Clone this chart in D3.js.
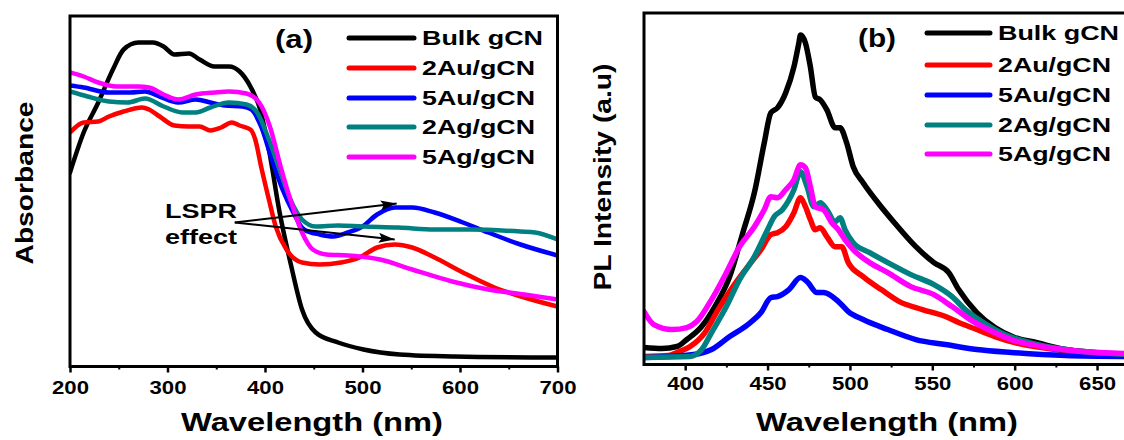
<!DOCTYPE html>
<html>
<head>
<meta charset="utf-8">
<script src="https://cdn.jsdelivr.net/npm/d3@7/dist/d3.min.js"></script>
<style>
  html, body { margin: 0; padding: 0; background: #fff; }
  svg { display: block; }
  text { font-family: "Liberation Sans", Arial, sans-serif; font-weight: bold; fill: #000; }
</style>
</head>
<body>
<svg id="chart" width="1124" height="440"></svg>
<script>
// ---------------- DATA ----------------
const seriesNames = ["Bulk gCN", "2Au/gCN", "5Au/gCN", "2Ag/gCN", "5Ag/gCN"];
const seriesColors = ["#000000", "#ff0000", "#0000ff", "#008080", "#ff00ff"];

// Panel (a): UV-vis absorbance, [wavelength nm, absorbance a.u.]
const absBulk = [[200,1.94],[214,2.34],[229,2.64],[244,2.97],[255,3.17],[270,3.24],[285,3.24],[296,3.20],[307,3.12],[322,3.13],[333,3.07],[348,3.00],[363,3.00],[374,2.95],[385,2.80],[395,2.57],[404,2.17],[415,1.54],[427,1.00],[438,0.57],[452,0.34],[475,0.24],[501,0.17],[538,0.12],[594,0.10],[700,0.09]];
const abs2Au = [[200,2.34],[214,2.44],[229,2.45],[240,2.50],[255,2.55],[274,2.59],[281,2.57],[292,2.50],[307,2.41],[322,2.40],[333,2.40],[344,2.36],[355,2.39],[366,2.44],[374,2.41],[385,2.37],[390,2.27],[396,2.00],[404,1.67],[411,1.40],[422,1.17],[438,1.04],[456,1.02],[478,1.04],[497,1.09],[515,1.19],[533,1.22],[551,1.19],[574,1.09],[603,0.94],[633,0.80],[666,0.69],[700,0.60]];
const abs5Au = [[200,2.81],[214,2.79],[240,2.74],[262,2.74],[277,2.75],[292,2.70],[311,2.64],[329,2.67],[344,2.64],[359,2.61],[377,2.60],[386,2.57],[396,2.40],[407,2.07],[418,1.77],[429,1.54],[440,1.37],[456,1.32],[470,1.30],[485,1.34],[500,1.40],[515,1.52],[533,1.59],[551,1.59],[574,1.54],[603,1.44],[629,1.34],[662,1.22],[700,1.11]];
const abs2Ag = [[200,2.75],[218,2.70],[240,2.65],[259,2.64],[277,2.68],[296,2.60],[315,2.54],[329,2.54],[344,2.59],[363,2.64],[381,2.62],[392,2.54],[404,2.27],[415,1.97],[426,1.67],[438,1.47],[452,1.40],[475,1.41],[500,1.40],[537,1.39],[574,1.37],[610,1.37],[662,1.35],[677,1.34],[700,1.27]];
const abs5Ag = [[200,2.94],[214,2.90],[229,2.84],[248,2.80],[270,2.80],[281,2.79],[296,2.72],[311,2.67],[329,2.72],[348,2.74],[363,2.75],[381,2.73],[394,2.64],[405,2.40],[416,2.00],[426,1.67],[438,1.34],[449,1.17],[463,1.12],[485,1.11],[518,1.07],[551,0.97],[592,0.85],[629,0.77],[666,0.72],[700,0.67]];

// Panel (b): PL intensity, [wavelength nm, intensity a.u.]
const plBulk = [[375,170],[386,160],[395,180],[401,250],[410,380],[418,580],[427,880],[435,1320],[442,1720],[448,2220],[452,2520],[456,2570],[461,2720],[466,2980],[469,3220],[470,3300],[473,3220],[476,2980],[479,2680],[482,2650],[486,2550],[491,2370],[494,2370],[498,2220],[502,1980],[508,1820],[517,1620],[527,1420],[540,1180],[551,1020],[560,920],[566,750],[577,520],[588,370],[600,270],[613,220],[631,150],[648,120],[670,90]];
const pl2Au = [[375,80],[390,90],[395,120],[403,180],[412,320],[420,550],[429,780],[438,980],[446,1150],[452,1300],[456,1320],[461,1380],[466,1520],[470,1670],[473,1580],[476,1450],[479,1350],[482,1370],[486,1280],[491,1180],[495,1180],[499,1020],[508,880],[519,750],[530,630],[544,550],[558,480],[566,420],[577,350],[588,280],[600,220],[620,160],[641,120],[670,100]];
const pl5Au = [[375,70],[405,100],[416,150],[427,280],[438,400],[446,520],[452,670],[456,680],[463,750],[470,870],[474,830],[480,720],[484,720],[493,630],[499,530],[508,450],[523,350],[540,250],[558,200],[577,150],[598,120],[631,90],[670,80]];
const pl2Ag = [[375,70],[403,80],[410,150],[416,320],[425,580],[433,850],[442,1080],[450,1350],[454,1480],[459,1550],[466,1750],[470,1930],[474,1780],[478,1580],[482,1620],[486,1550],[491,1430],[494,1470],[497,1350],[502,1220],[512,1120],[523,1020],[537,900],[551,800],[562,680],[570,550],[581,420],[594,300],[609,220],[631,150],[670,100]];
const pl5Ag = [[375,530],[381,400],[392,350],[401,370],[407,430],[416,650],[425,920],[433,1180],[442,1380],[448,1550],[452,1680],[456,1670],[461,1750],[466,1850],[470,2000],[473,1970],[476,1780],[479,1580],[484,1550],[489,1420],[493,1350],[497,1250],[502,1150],[512,1020],[523,920],[537,780],[551,700],[562,580],[573,450],[584,350],[598,250],[620,170],[641,130],[670,110]];

const ticksA = [200, 300, 400, 500, 600, 700];
const minorTicksA = [250, 350, 450, 550, 650];
const ticksB = [400, 450, 500, 550, 600, 650];
const minorTicksB = [425, 475, 525, 575, 625];

// LSPR annotation arrows, in panel (a) data units: [fromX, fromY, toX, toY]
const lsprArrows = [[369, 1.44, 535, 1.63], [369, 1.44, 533, 1.27]];

// ---------------- DRAW ----------------
const svg = d3.select("#chart");
const defs = svg.append("defs");
defs.append("marker").attr("id", "arrowhead")
  .attr("viewBox", "0 0 16 10").attr("refX", 16).attr("refY", 5)
  .attr("markerWidth", 16).attr("markerHeight", 10)
  .attr("markerUnits", "userSpaceOnUse").attr("orient", "auto")
  .append("path").attr("d", "M0,0 L16,5 L0,10 L3,5 Z").attr("fill", "#000");

function panel(cfg) {
  const g = svg.append("g");
  const x = d3.scaleLinear().domain(cfg.xDomain).range(cfg.xRange);
  const y = d3.scaleLinear().domain(cfg.yDomain).range(cfg.yRange);
  const clipId = "clip" + cfg.id;
  defs.append("clipPath").attr("id", clipId).append("rect")
    .attr("x", cfg.xRange[0]).attr("y", cfg.yRange[1])
    .attr("width", cfg.xRange[1] - cfg.xRange[0]).attr("height", cfg.yRange[0] - cfg.yRange[1]);

  const line = d3.line().x(d => x(d[0])).y(d => y(d[1])).curve(cfg.curve);
  const lg = g.append("g").attr("clip-path", `url(#${clipId})`);
  cfg.series.forEach((s, i) => {
    lg.append("path").datum(s).attr("d", line)
      .attr("fill", "none").attr("stroke", seriesColors[i])
      .attr("stroke-width", cfg.lineWidth).attr("stroke-linejoin", "round").attr("stroke-linecap", "round");
  });

  // frame
  g.append("rect").attr("x", cfg.xRange[0]).attr("y", cfg.yRange[1])
    .attr("width", cfg.xRange[1] - cfg.xRange[0]).attr("height", cfg.yRange[0] - cfg.yRange[1])
    .attr("fill", "none").attr("stroke", "#000").attr("stroke-width", 3);

  // x axis major
  const ax = g.append("g").attr("transform", `translate(0,${cfg.yRange[0]})`)
    .call(d3.axisBottom(x).tickValues(cfg.ticks).tickSize(6).tickSizeOuter(0).tickPadding(cfg.tickPad).tickFormat(d3.format("d")));
  ax.select(".domain").remove();
  ax.selectAll("line").attr("stroke-width", 2.5);
  ax.selectAll("text").attr("font-size", 19).attr("font-family", "Liberation Sans, Arial, sans-serif")
    .attr("font-weight", "bold").attr("textLength", 37).attr("lengthAdjust", "spacingAndGlyphs");
  const mx = g.append("g").attr("transform", `translate(0,${cfg.yRange[0]})`)
    .call(d3.axisBottom(x).tickValues(cfg.minor).tickSize(3).tickSizeOuter(0).tickFormat(""));
  mx.select(".domain").remove();
  mx.selectAll("line").attr("stroke-width", 2);

  // axis titles
  g.append("text").attr("x", cfg.xTitleX).attr("y", 431).attr("text-anchor", "middle")
    .attr("font-size", 25).attr("textLength", 262).attr("lengthAdjust", "spacingAndGlyphs")
    .text("Wavelength (nm)");
  g.append("text").attr("transform", `translate(${cfg.yTitle.x},${cfg.yTitle.y}) rotate(-90)`)
    .attr("text-anchor", "middle").attr("font-size", 24)
    .attr("textLength", cfg.yTitle.len).attr("lengthAdjust", "spacingAndGlyphs")
    .text(cfg.yTitle.text);

  // panel label
  g.append("text").attr("x", cfg.label.x).attr("y", cfg.label.y).attr("text-anchor", "middle")
    .attr("font-size", 25).attr("textLength", 38).attr("lengthAdjust", "spacingAndGlyphs")
    .text(cfg.label.text);

  // legend
  const leg = g.append("g");
  seriesNames.forEach((n, i) => {
    const ly = cfg.legend.ys[i];
    leg.append("line").attr("x1", cfg.legend.x1).attr("x2", cfg.legend.x2)
      .attr("y1", ly).attr("y2", ly).attr("stroke", seriesColors[i])
      .attr("stroke-width", 5).attr("stroke-linecap", "round");
    leg.append("text").attr("x", cfg.legend.tx).attr("y", ly + 7).attr("font-size", 20)
      .attr("textLength", i === 0 ? 121 : 113).attr("lengthAdjust", "spacingAndGlyphs")
      .text(n);
  });
  return {g, x, y};
}

const A = panel({
  id: "a", xDomain: [200, 700], xRange: [70, 557.5], yDomain: [0, 3.505], yRange: [366.5, 16],
  series: [absBulk, abs2Au, abs5Au, abs2Ag, abs5Ag], curve: d3.curveMonotoneX, lineWidth: 4.5,
  ticks: ticksA, minor: minorTicksA, tickPad: 8, xTitleX: 312,
  yTitle: {x: 33, y: 183, len: 163, text: "Absorbance"},
  label: {x: 294, y: 48, text: "(a)"},
  legend: {x1: 349, x2: 414, tx: 422, ys: [38, 68, 98, 127, 157]}
});

// LSPR annotation
lsprArrows.forEach(a => {
  A.g.append("line").attr("x1", A.x(a[0])).attr("y1", A.y(a[1]))
    .attr("x2", A.x(a[2])).attr("y2", A.y(a[3]))
    .attr("stroke", "#000").attr("stroke-width", 2).attr("marker-end", "url(#arrowhead)");
});
A.g.append("text").attr("x", 165).attr("y", 218).attr("font-size", 20)
  .attr("textLength", 72).attr("lengthAdjust", "spacingAndGlyphs").text("LSPR");
A.g.append("text").attr("x", 165).attr("y", 244).attr("font-size", 20)
  .attr("textLength", 72).attr("lengthAdjust", "spacingAndGlyphs").text("effect");

panel({
  id: "b", xDomain: [375, 670], xRange: [644, 1130], yDomain: [0, 3520], yRange: [364.5, 13],
  series: [plBulk, pl2Au, pl5Au, pl2Ag, pl5Ag], curve: d3.curveMonotoneX, lineWidth: 5.5,
  ticks: ticksB, minor: minorTicksB, tickPad: 6, xTitleX: 887,
  yTitle: {x: 611, y: 177, len: 227, text: "PL Intensity (a.u)"},
  label: {x: 877, y: 47, text: "(b)"},
  legend: {x1: 927, x2: 990, tx: 998, ys: [33, 65, 95, 125, 154]}
});
</script>
</body>
</html>
